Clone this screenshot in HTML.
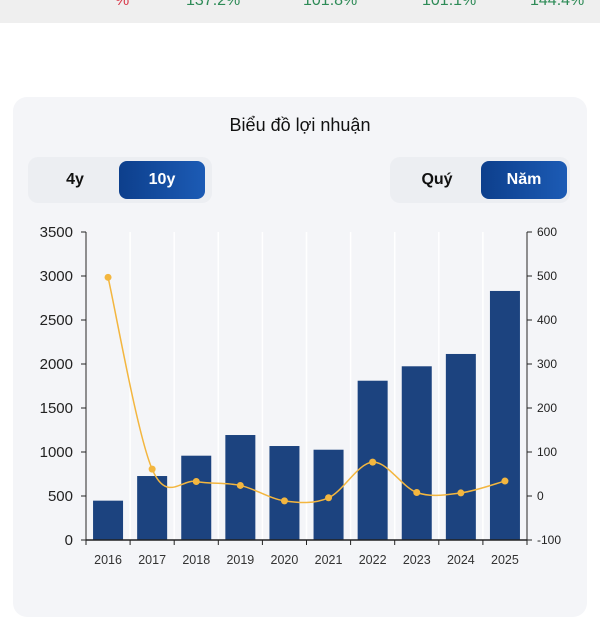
<!DOCTYPE html>
<html><head><meta charset="utf-8"><style>
body{margin:0;width:600px;height:600px;background:#fff;font-family:"Liberation Sans","DejaVu Sans",sans-serif;overflow:hidden;position:relative}
.strip{position:absolute;left:0;top:0;width:600px;height:23px;background:#efefef}
.strip span{position:absolute;top:-8px;font-size:16px;color:#2e8b57}
.card{position:absolute;left:13px;top:97px;width:574px;height:520px;background:#f4f5f8;border-radius:14px}
.title{position:absolute;left:0;width:600px;top:115px;text-align:center;font-size:18px;color:#111}
.grp{position:absolute;top:157px;height:46px;background:#eceef2;border-radius:10px}
.btn{position:absolute;top:4px;height:38px;line-height:38px;text-align:center;font-size:16px;font-weight:bold;border-radius:8px;color:#111}
.on{background:linear-gradient(90deg,#0d3f8c,#1c5bb5);color:#fff}
</style></head><body>
<div class="strip">
<span style="left:115px;color:#d9394a">%</span>
<span style="left:186px">137.2%</span>
<span style="left:303px">101.8%</span>
<span style="left:422px">101.1%</span>
<span style="left:530px">144.4%</span>
</div>
<div class="card"></div>
<div class="title">Biểu đồ lợi nhuận</div>
<div class="grp" style="left:28px;width:184px">
<div class="btn" style="left:4px;width:86px">4y</div>
<div class="btn on" style="left:91px;width:86px">10y</div>
</div>
<div class="grp" style="left:390px;width:180px">
<div class="btn" style="left:4px;width:86px">Quý</div>
<div class="btn on" style="left:91px;width:86px">Năm</div>
</div>
<svg id="chart" width="600" height="600" style="position:absolute;left:0;top:0"></svg>
<script>
const categories=["2016","2017","2018","2019","2020","2021","2022","2023","2024","2025"];
const profitValues=[447,727,958,1193,1068,1026,1810,1974,2114,2830];
const growthValues=[497,61,33,24,-11,-4,77,8,7,34];
const leftTicks=[0,500,1000,1500,2000,2500,3000,3500];
const rightTicks=[-100,0,100,200,300,400,500,600];
const svg=document.getElementById('chart');const NS='http://www.w3.org/2000/svg';
const X0=86,X1=527,Y0=540,Y1=232;const band=(X1-X0)/categories.length;
const yL=v=>Y0-(v/3500)*(Y0-Y1);
const yR=v=>Y0-((v+100)/700)*(Y0-Y1);
const xC=i=>X0+band*(i+0.5);
function mk(t,a,p){const e=document.createElementNS(NS,t);for(const k in a)e.setAttribute(k,a[k]);(p||svg).appendChild(e);return e;}
// grid
for(let i=0;i<=categories.length;i++){const g=mk('line',{x1:X0+band*i,x2:X0+band*i,y1:Y1,y2:Y0,stroke:'#ffffff','stroke-width':1.5});

}
// bars
profitValues.forEach((v,i)=>{const r=mk('rect',{x:xC(i)-15,y:yL(v),width:30,height:Y0-yL(v),fill:'#1c437f'});

});
// axes
mk('line',{x1:X0,x2:X0,y1:Y1,y2:Y0,stroke:'#222','stroke-width':1});
mk('line',{x1:X1,x2:X1,y1:Y1,y2:Y0,stroke:'#222','stroke-width':1});
mk('line',{x1:X0,x2:X1,y1:Y0,y2:Y0,stroke:'#222','stroke-width':1.5});
leftTicks.forEach(t=>{const y=yL(t);mk('line',{x1:X0-5,x2:X0,y1:y,y2:y,stroke:'#222'});
const tx=mk('text',{x:X0-13,y:y+5,'text-anchor':'end','font-size':15,fill:'#222'});tx.textContent=t;

});
rightTicks.forEach(t=>{const y=yR(t);mk('line',{x1:X1,x2:X1+5,y1:y,y2:y,stroke:'#222'});
const tx=mk('text',{x:X1+10,y:y+4,'font-size':12,fill:'#222'});tx.textContent=t;

});
for(let i=0;i<=categories.length;i++)mk('line',{x1:X0+band*i,x2:X0+band*i,y1:Y0,y2:Y0+5,stroke:'#222'});
categories.forEach((c,i)=>{const tx=mk('text',{x:xC(i),y:Y0+24,'text-anchor':'middle','font-size':12.5,fill:'#333'});tx.textContent=c;

});
// line (catmull-rom)
const pts=growthValues.map((v,i)=>[xC(i),yR(v)]);
let d='M'+pts[0][0]+','+pts[0][1];
for(let i=0;i<pts.length-1;i++){const p0=pts[i-1]||pts[i],p1=pts[i],p2=pts[i+1],p3=pts[i+2]||p2;const k=1/6;
d+=' C'+(p1[0]+(p2[0]-p0[0])*k)+','+(p1[1]+(p2[1]-p0[1])*k)+' '+(p2[0]-(p3[0]-p1[0])*k)+','+(p2[1]-(p3[1]-p1[1])*k)+' '+p2[0]+','+p2[1];}
const ln=mk('path',{d:d,fill:'none',stroke:'#f3b63f','stroke-width':1.5});


pts.forEach((p,i)=>{const c=mk('circle',{cx:p[0],cy:p[1],r:3.5,fill:'#f3b63f'});

});
</script>
</body></html>
